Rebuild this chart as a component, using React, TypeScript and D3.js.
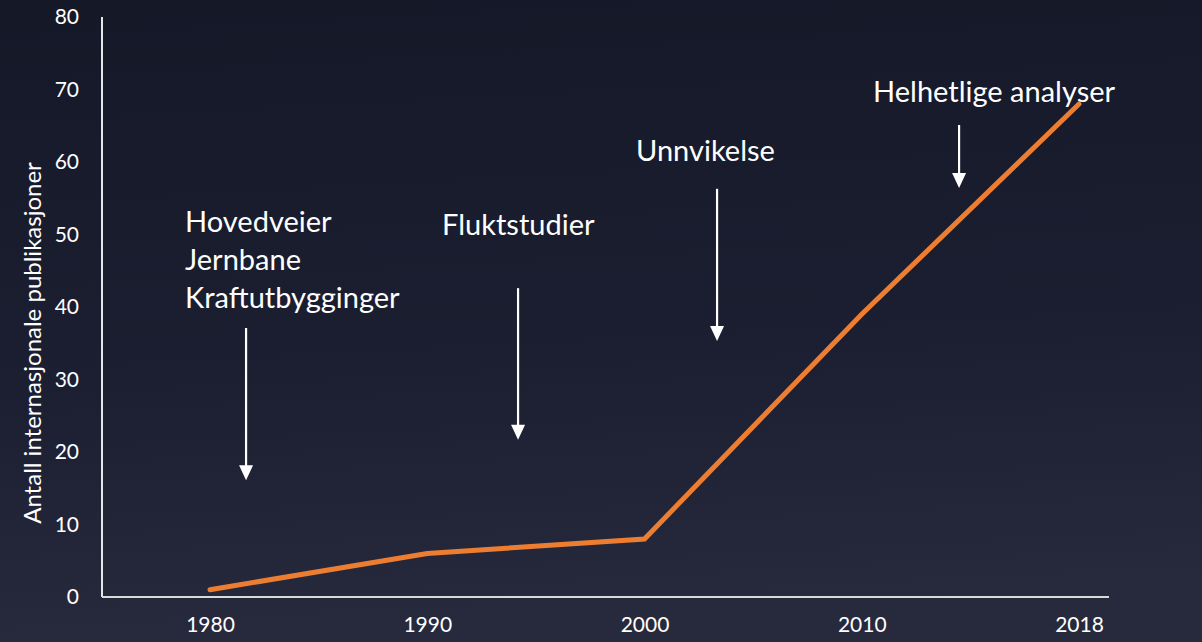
import React, { useEffect, useRef } from 'react';
import * as d3 from 'd3';

const YEARS = ["1980", "1990", "2000", "2010", "2018"];
const PUBLICATIONS = [1, 6, 8, 39, 68];
const Y_TICKS = [0, 10, 20, 30, 40, 50, 60, 70, 80];
const Y_TITLE = "Antall internasjonale publikasjoner";

// annotations: text lines, baseline (value units), arrow position (in category steps) and span
const NOTE_LINES = [["Hovedveier", "Jernbane", "Kraftutbygginger"], ["Fluktstudier"], ["Unnvikelse"], ["Helhetlige analyser"]];
const NOTE_BASELINE = [50.3, 49.9, 60.1, 68.3];
const NOTE_TEXT_SHIFT = [-61, -76, -81, -86];
const NOTE_ARROW_X = [0.166, 1.418, 2.334, 3.448];
const NOTE_ARROW_FROM = [37.1, 42.6, 56.3, 65.1];
const NOTE_ARROW_TO = [16.1, 21.7, 35.3, 56.4];

const W = 1202;
const H = 642;
const margin = { top: 17, right: 93, bottom: 45, left: 102 };

const App = () => {
  const svgRef = useRef<SVGSVGElement>(null);

  useEffect(() => {
    document.body.style.margin = "0";
    const svg = d3.select(svgRef.current);
    svg.selectAll("*").remove();

    // background
    const defs = svg.append("defs");
    const grad = defs.append("linearGradient").attr("id", "sky")
      .attr("x1", 0).attr("y1", 0).attr("x2", 0.1).attr("y2", 1);
    grad.append("stop").attr("offset", "0%").attr("stop-color", "#141827");
    grad.append("stop").attr("offset", "60%").attr("stop-color", "#1c1f31");
    grad.append("stop").attr("offset", "100%").attr("stop-color", "#272a3d");
    svg.append("rect").attr("width", W).attr("height", H).attr("fill", "url(#sky)");

    const x = d3.scalePoint().domain(YEARS).range([210, 1079]);
    const y = d3.scaleLinear().domain([0, 80]).range([H - margin.bottom, margin.top]);
    const step = x.step();
    const xAt = (f: number) => (x(YEARS[0]) as number) + f * step;

    // axes lines
    svg.append("line")
      .attr("x1", margin.left).attr("x2", margin.left)
      .attr("y1", y(80)).attr("y2", y(0))
      .attr("stroke", "#e6e6e6").attr("stroke-width", 2);
    svg.append("line")
      .attr("x1", margin.left).attr("x2", W - margin.right)
      .attr("y1", y(0)).attr("y2", y(0))
      .attr("stroke", "#d9d9d9").attr("stroke-width", 2);

    const yAxis = d3.axisLeft(y).tickValues(Y_TICKS).tickSize(0).tickPadding(23);
    svg.append("g")
      .attr("transform", `translate(${margin.left},0)`)
      .call(yAxis)
      .call(g => g.select(".domain").remove())
      .selectAll("text")
      .attr("fill", "#ffffff")
      .attr("font-family", "Lato")
      .attr("font-size", 21);

    const xAxis = d3.axisBottom(x).tickSize(0).tickPadding(20);
    svg.append("g")
      .attr("transform", `translate(0,${y(0)})`)
      .call(xAxis)
      .call(g => g.select(".domain").remove())
      .selectAll("text")
      .attr("fill", "#ffffff")
      .attr("font-family", "Lato")
      .attr("font-size", 21);

    svg.append("text")
      .attr("transform", `translate(41,343) rotate(-90)`)
      .attr("text-anchor", "middle")
      .attr("fill", "#ffffff")
      .attr("font-family", "Lato")
      .attr("font-size", 24)
      .text(Y_TITLE);

    // the series
    const line = d3.line<number>()
      .x((d, i) => x(YEARS[i]) as number)
      .y(d => y(d));
    svg.append("path")
      .datum(PUBLICATIONS)
      .attr("d", line)
      .attr("fill", "none")
      .attr("stroke", "#ed7d31")
      .attr("stroke-width", 5)
      .attr("stroke-linecap", "round")
      .attr("stroke-linejoin", "miter");

    // annotations
    NOTE_LINES.forEach((lines, i) => {
      const ax = xAt(NOTE_ARROW_X[i]);
      const t = svg.append("text")
        .attr("fill", "#ffffff")
        .attr("font-family", "Lato")
        .attr("font-size", 29);
      lines.forEach((s, j) => {
        t.append("tspan")
          .attr("x", ax + NOTE_TEXT_SHIFT[i])
          .attr("y", y(NOTE_BASELINE[i]) + j * 38)
          .text(s);
      });
      const y1 = y(NOTE_ARROW_FROM[i]);
      const tip = y(NOTE_ARROW_TO[i]);
      svg.append("line")
        .attr("x1", ax).attr("x2", ax)
        .attr("y1", y1).attr("y2", tip - 12)
        .attr("stroke", "#ffffff").attr("stroke-width", 2.2);
      svg.append("path")
        .attr("d", `M${ax - 7},${tip - 15} L${ax + 7},${tip - 15} L${ax},${tip} Z`)
        .attr("fill", "#ffffff");
    });
  }, []);

  return <svg ref={svgRef} width={W} height={H} style={{ display: "block" }} />;
};

export default App;
